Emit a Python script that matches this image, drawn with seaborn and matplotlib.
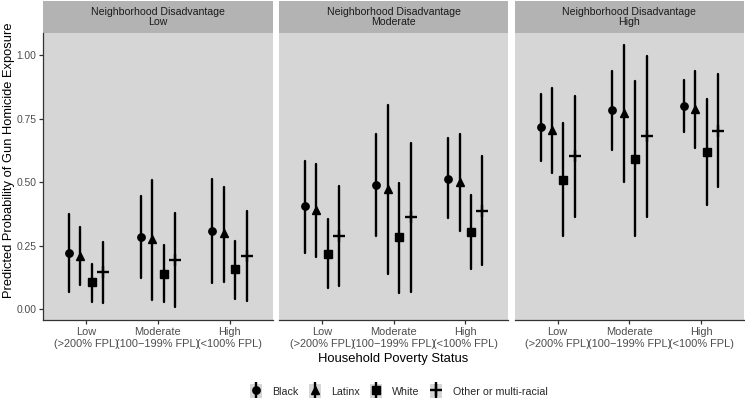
import numpy as np
import pandas as pd
import matplotlib
matplotlib.use("Agg")
import matplotlib.pyplot as plt
import seaborn as sns
from matplotlib.patches import Rectangle
from matplotlib.lines import Line2D
from matplotlib.legend_handler import HandlerTuple

# =========================
# DATA
# =========================
races = ["Black", "Latinx", "White", "Other or multi-racial"]
poverty = ["Low\n(>200% FPL)", "Moderate\n(100\u2212199% FPL)", "High\n(<100% FPL)"]
disadvantage = ["Low", "Moderate", "High"]

# rows = household poverty (Low, Moderate, High), cols = races
est_low = [[0.219, 0.210, 0.105, 0.144],
           [0.285, 0.274, 0.140, 0.193],
           [0.308, 0.298, 0.156, 0.209]]
lo_low = [[0.068, 0.094, 0.029, 0.025],
          [0.123, 0.035, 0.026, 0.009],
          [0.101, 0.107, 0.041, 0.031]]
hi_low = [[0.373, 0.324, 0.177, 0.263],
          [0.446, 0.510, 0.252, 0.377],
          [0.512, 0.479, 0.267, 0.387]]

est_mod = [[0.404, 0.391, 0.217, 0.288],
           [0.488, 0.474, 0.282, 0.362],
           [0.514, 0.499, 0.304, 0.388]]
lo_mod = [[0.222, 0.207, 0.082, 0.092],
          [0.286, 0.137, 0.064, 0.068],
          [0.357, 0.307, 0.157, 0.172]]
hi_mod = [[0.584, 0.571, 0.354, 0.486],
          [0.689, 0.805, 0.497, 0.654],
          [0.672, 0.689, 0.450, 0.603]]

est_high = [[0.717, 0.707, 0.509, 0.601],
            [0.782, 0.771, 0.592, 0.680],
            [0.799, 0.789, 0.618, 0.703]]
lo_high = [[0.584, 0.534, 0.286, 0.361],
           [0.626, 0.499, 0.286, 0.361],
           [0.696, 0.636, 0.411, 0.479]]
hi_high = [[0.847, 0.871, 0.733, 0.841],
           [0.936, 1.038, 0.900, 0.996],
           [0.903, 0.939, 0.828, 0.924]]

panels = {
    "Low": (est_low, lo_low, hi_low),
    "Moderate": (est_mod, lo_mod, hi_mod),
    "High": (est_high, lo_high, hi_high),
}

# long table: lower / estimate / upper per cell -> median = estimate, min-max = CI
rows = []
for nd in disadvantage:
    est, lo, hi = panels[nd]
    for i, pv in enumerate(poverty):
        for j, r in enumerate(races):
            for v in (lo[i][j], est[i][j], hi[i][j]):
                rows.append({"nd": nd, "poverty": pv, "race": r, "value": v})
df = pd.DataFrame(rows)

# =========================
# STYLE
# =========================
panel_bg = "#D6D6D6"
strip_bg = "#B3B3B3"
sns.set_theme(style="white", rc={"axes.facecolor": panel_bg})
plt.rcParams["font.family"] = ["Liberation Sans", "DejaVu Sans"]

markers = ["o", "^", "s", "+"]
palette = {r: "black" for r in races}

fig, axes = plt.subplots(1, 3, figsize=(7.45, 4.03), dpi=100, sharey=True)
fig.subplots_adjust(left=0.058, right=0.9987, top=0.918, bottom=0.206, wspace=0.028)

for ax, nd in zip(axes, disadvantage):
    sub = df[df["nd"] == nd]
    sns.pointplot(
        data=sub, x="poverty", y="value", hue="race",
        order=poverty, hue_order=races, palette=palette,
        estimator="median", errorbar=("pi", 100),
        markers=markers, linestyles="none", dodge=0.48,
        linewidth=1.7, markersize=5.3, markeredgewidth=1.0,
        legend=False, ax=ax,
    )
    for ln in ax.lines:
        if ln.get_marker() == "+":
            ln.set_markersize(8.5)
            ln.set_markeredgewidth(1.7)
        elif ln.get_marker() == "^":
            ln.set_markersize(5.9)
    ax.set_facecolor(panel_bg)
    ax.set_xlim(-0.6, 2.6)
    ax.set_ylim(-0.043, 1.087)
    ax.set_yticks([0, 0.25, 0.5, 0.75, 1.0])
    ax.set_yticklabels(["0.00", "0.25", "0.50", "0.75", "1.00"])
    ax.set_xlabel("")
    ax.set_ylabel("")
    for s in ["top", "right"]:
        ax.spines[s].set_visible(False)
    ax.spines["bottom"].set_color("#333333")
    ax.spines["bottom"].set_linewidth(0.9)
    ax.tick_params(axis="x", bottom=True, length=3, width=0.9, color="#333333",
                   labelsize=7.9, labelcolor="#4D4D4D", pad=2)
    ax.tick_params(axis="y", left=True, length=3, width=0.9, color="#333333",
                   labelsize=7.4, labelcolor="#4D4D4D", pad=2)
    # facet strip
    h = 32 / 287
    ax.add_patch(Rectangle((0, 1), 1, h, transform=ax.transAxes,
                           facecolor=strip_bg, edgecolor="none", clip_on=False))
    ax.text(0.5, 1 + h / 2, "Neighborhood Disadvantage\n" + nd,
            transform=ax.transAxes, ha="center", va="center",
            fontsize=7.6, color="#1A1A1A", linespacing=1.1)

axes[0].spines["left"].set_color("#333333")
axes[0].spines["left"].set_linewidth(0.9)
for ax in axes[1:]:
    ax.spines["left"].set_visible(False)
    ax.tick_params(axis="y", left=False)

axes[0].set_ylabel("Predicted Probability of Gun Homicide Exposure",
                   fontsize=9.3, color="black")
axes[0].yaxis.set_label_coords(-0.122, 0.557)
axes[1].set_xlabel("Household Poverty Status", fontsize=9.4, color="black", labelpad=3)

# legend with grey key backgrounds
handles = []
for m in markers:
    bg = Rectangle((0, 0), 1, 1, facecolor=panel_bg, edgecolor="none")
    bar = Line2D([], [], marker="|", markersize=12, markeredgewidth=1.7,
                 color="black", linestyle="none")
    if m == "+":
        pt = Line2D([], [], marker="+", markersize=8.5, markeredgewidth=1.7,
                    color="black", linestyle="none")
    else:
        pt = Line2D([], [], marker=m, markersize=5.3, markeredgewidth=1.0,
                    color="black", linestyle="none")
    handles.append((bg, bar, pt))

fig.legend(handles, races, loc="lower center", bbox_to_anchor=(0.535, -0.012),
           ncol=4, frameon=False, fontsize=7.7, handlelength=1.15,
           handleheight=1.6, handletextpad=0.95, columnspacing=0.95,
           handler_map={tuple: HandlerTuple(ndivide=1, pad=0)})

plt.savefig("out.png", dpi=100)
plt.close()
